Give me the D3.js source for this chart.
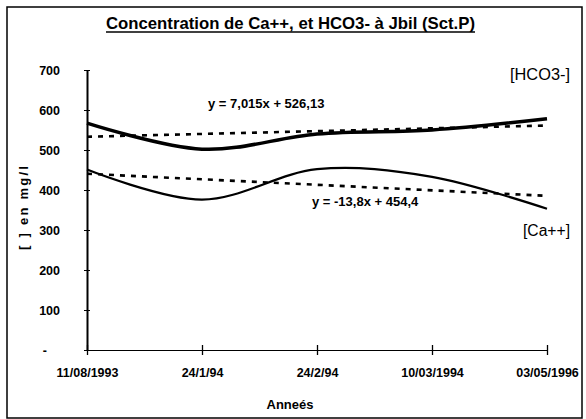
<!DOCTYPE html>
<html>
<head>
<meta charset="utf-8">
<script src="https://cdn.jsdelivr.net/npm/d3@7/dist/d3.min.js"></script>
<style>
  html, body { margin: 0; padding: 0; background: #fff; }
  svg { display: block; }
  text { font-family: "Liberation Sans Narrow", "Arial Narrow", "Liberation Sans", Arial, sans-serif; fill: #000; }
</style>
</head>
<body>
<svg id="chart" width="586" height="419"></svg>
<script>
// Sampling dates (category axis)
const dates = ["11/08/1993", "24/1/94", "24/2/94", "10/03/1994", "03/05/1996"];
// Concentrations in mg/l
const hco3 = [567, 502, 540, 550, 578];
const ca = [451, 376, 452, 433, 353];
// Linear trends y = a*x + b (x = 1..5)
const hco3Trend = { a: 7.015, b: 526.13, label: "y = 7,015x + 526,13" };
const caTrend = { a: -13.8, b: 454.4, label: "y = -13,8x + 454,4" };
// Y axis ticks
const yTicks = [0, 100, 200, 300, 400, 500, 600, 700];

const svg = d3.select("#chart");

// outer frame
svg.append("rect")
  .attr("x", 7).attr("y", 7).attr("width", 575).attr("height", 411)
  .attr("fill", "none").attr("stroke", "#000").attr("stroke-width", 1.5);

const x = d3.scalePoint().domain(dates).range([87, 547]);
const y = d3.scaleLinear().domain([0, 700]).range([350, 70]);

// title (underlined)
svg.append("text")
  .attr("x", 106).attr("y", 29)
  .attr("font-size", 17).attr("font-weight", "bold")
  .attr("textLength", 369).attr("lengthAdjust", "spacingAndGlyphs")
  .text("Concentration de Ca++, et HCO3- à Jbil (Sct.P)");
svg.append("line")
  .attr("x1", 106).attr("x2", 475)
  .attr("y1", 32).attr("y2", 32)
  .attr("stroke", "#000").attr("stroke-width", 1.4);

// y axis
const yAxis = svg.append("g").attr("transform", "translate(87,0)")
  .call(d3.axisLeft(y).tickValues(yTicks).tickSize(0).tickPadding(27)
    .tickFormat(d => d === 0 ? "-" : d));
yAxis.select(".domain").attr("stroke", "#000").attr("stroke-width", 2);
yAxis.selectAll("text").attr("font-size", 12.5).attr("font-weight", "bold")
  .attr("font-family", "'Liberation Sans', sans-serif");
yAxis.selectAll(".tick").filter(d => d === 0).select("text").attr("x", -40);
yAxis.selectAll(".tick").append("line")
  .attr("x1", -3).attr("x2", 3).attr("stroke", "#000").attr("stroke-width", 1);

// x axis
const xAxis = svg.append("g").attr("transform", "translate(0,350)")
  .call(d3.axisBottom(x).tickSize(0).tickPadding(18));
xAxis.select(".domain").attr("stroke", "#000").attr("stroke-width", 1.2);
xAxis.selectAll("text").attr("font-size", 12.5).attr("font-weight", "bold")
  .attr("font-family", "'Liberation Sans', sans-serif");
xAxis.selectAll(".tick").append("line")
  .attr("y1", -5).attr("y2", 5).attr("stroke", "#000").attr("stroke-width", 1.3);

// axis titles
svg.append("text")
  .attr("transform", "translate(28,208) rotate(-90)")
  .attr("text-anchor", "middle")
  .attr("font-size", 13).attr("font-weight", "bold")
  .attr("textLength", 84).attr("lengthAdjust", "spacing")
  .text("[ ] en mg/l");
svg.append("text")
  .attr("x", 290).attr("y", 409)
  .attr("text-anchor", "middle")
  .attr("font-size", 13).attr("font-weight", "bold")
  .text("Anneés");

// smoothed series
const line = d3.line()
  .x((d, i) => x(dates[i]))
  .y(d => y(d))
  .curve(d3.curveCatmullRom.alpha(0));

svg.append("path").datum(hco3)
  .attr("d", line).attr("fill", "none")
  .attr("stroke", "#000").attr("stroke-width", 3.5).attr("stroke-linejoin", "round");
svg.append("path").datum(ca)
  .attr("d", line).attr("fill", "none")
  .attr("stroke", "#000").attr("stroke-width", 2.2).attr("stroke-linejoin", "round");

// trend lines
function trendLine(t) {
  const n = dates.length;
  svg.append("line")
    .attr("x1", x(dates[0])).attr("y1", y(t.a * 1 + t.b))
    .attr("x2", x(dates[n - 1])).attr("y2", y(t.a * n + t.b))
    .attr("stroke", "#000").attr("stroke-width", 2.6)
    .attr("stroke-dasharray", "5,6");
}
trendLine(hco3Trend);
trendLine(caTrend);

// equation labels
svg.append("text").attr("x", 208).attr("y", 108)
  .attr("font-size", 13).attr("font-weight", "bold")
  .attr("font-family", "'Liberation Sans', sans-serif")
  .text(hco3Trend.label);
svg.append("text").attr("x", 312).attr("y", 206)
  .attr("font-size", 13).attr("font-weight", "bold")
  .attr("font-family", "'Liberation Sans', sans-serif")
  .text(caTrend.label);

// series labels
svg.append("text").attr("x", 510).attr("y", 80)
  .attr("font-size", 16)
  .attr("textLength", 60).attr("lengthAdjust", "spacingAndGlyphs")
  .text("[HCO3-]");
svg.append("text").attr("x", 523).attr("y", 236)
  .attr("font-size", 16)
  .attr("textLength", 47).attr("lengthAdjust", "spacingAndGlyphs")
  .text("[Ca++]");
</script>
</body>
</html>
